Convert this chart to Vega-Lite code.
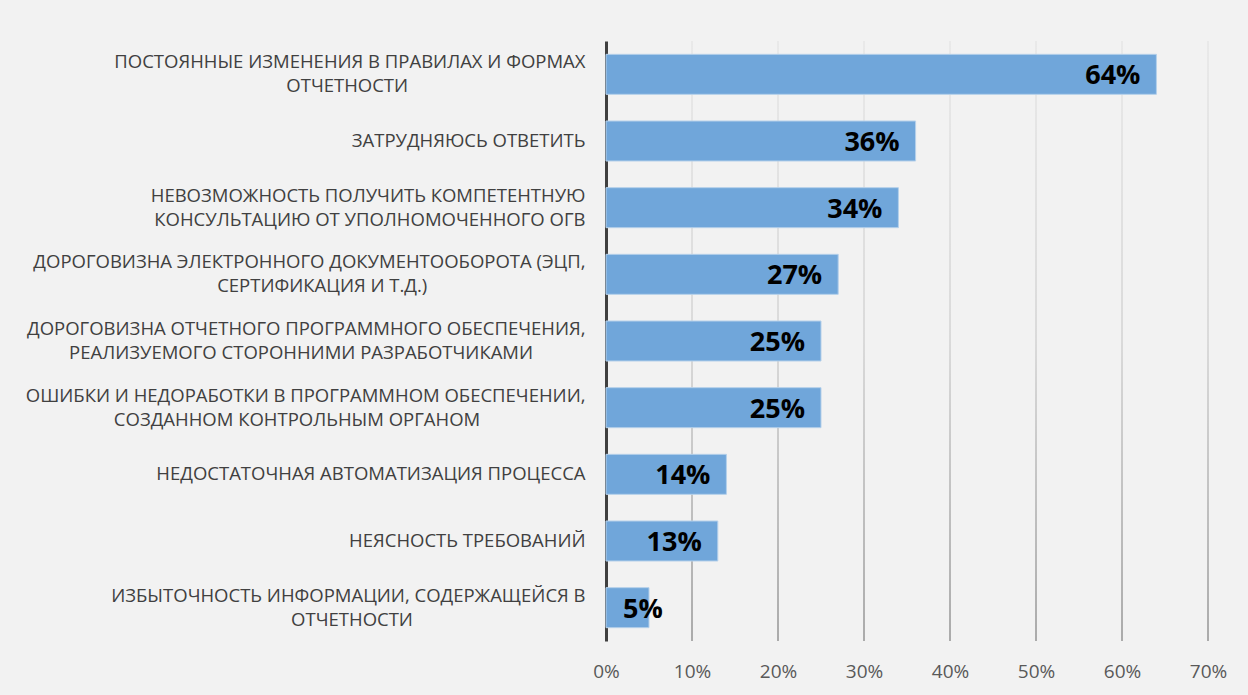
{
  "$schema": "https://vega.github.io/schema/vega-lite/v6.json",
  "autosize": "none",
  "padding": {"left": 606, "top": 41, "right": 40, "bottom": 54},
  "width": 602,
  "height": 600,
  "background": "#f2f2f2",
  "config": {"view": {"stroke": null}, "font": "Open Sans"},
  "datasets": {
    "bars": [
      {"cat": "ПОСТОЯННЫЕ ИЗМЕНЕНИЯ В ПРАВИЛАХ И ФОРМАХ|ОТЧЕТНОСТИ", "v": 0.64},
      {"cat": "ЗАТРУДНЯЮСЬ ОТВЕТИТЬ", "v": 0.36},
      {"cat": "НЕВОЗМОЖНОСТЬ ПОЛУЧИТЬ КОМПЕТЕНТНУЮ|КОНСУЛЬТАЦИЮ ОТ УПОЛНОМОЧЕННОГО ОГВ", "v": 0.34},
      {"cat": "ДОРОГОВИЗНА ЭЛЕКТРОННОГО ДОКУМЕНТООБОРОТА (ЭЦП,|СЕРТИФИКАЦИЯ И Т.Д.)", "v": 0.27},
      {"cat": "ДОРОГОВИЗНА ОТЧЕТНОГО ПРОГРАММНОГО ОБЕСПЕЧЕНИЯ,|РЕАЛИЗУЕМОГО СТОРОННИМИ РАЗРАБОТЧИКАМИ", "v": 0.25},
      {"cat": "ОШИБКИ И НЕДОРАБОТКИ В ПРОГРАММНОМ ОБЕСПЕЧЕНИИ,|СОЗДАННОМ КОНТРОЛЬНЫМ ОРГАНОМ", "v": 0.25},
      {"cat": "НЕДОСТАТОЧНАЯ АВТОМАТИЗАЦИЯ ПРОЦЕССА", "v": 0.14},
      {"cat": "НЕЯСНОСТЬ ТРЕБОВАНИЙ", "v": 0.13},
      {"cat": "ИЗБЫТОЧНОСТЬ ИНФОРМАЦИИ, СОДЕРЖАЩЕЙСЯ В|ОТЧЕТНОСТИ", "v": 0.05}
    ],
    "grid": [
      {"g": 0.1}, {"g": 0.2}, {"g": 0.3}, {"g": 0.4}, {"g": 0.5}, {"g": 0.6}, {"g": 0.7}
    ]
  },
  "layer": [
    {
      "data": {"name": "grid"},
      "mark": {"type": "bar", "orient": "vertical", "width": 1.5,
        "color": {"gradient": "linear", "x1": 0, "y1": 0, "x2": 0, "y2": 1,
          "stops": [{"offset": 0, "color": "#e6e6e6"}, {"offset": 0.5, "color": "#d2d2d2"}, {"offset": 1, "color": "#939393"}]}},
      "encoding": {
        "x": {"field": "g", "type": "quantitative", "scale": {"domain": [0, 0.7], "nice": false, "padding": 0},
          "axis": {
            "title": null, "format": "%", "values": [0, 0.1, 0.2, 0.3, 0.4, 0.5, 0.6, 0.7],
            "ticks": false, "domain": false, "labelFlush": false, "grid": false,
            "labelFontSize": 19, "labelColor": "#595959", "labelPadding": 21
          }}
      }
    },
    {
      "data": {"name": "bars"},
      "encoding": {
        "y": {
          "field": "cat", "type": "nominal", "sort": null,
          "scale": {"paddingInner": 0.4, "paddingOuter": 0.2},
          "axis": {
            "title": null, "ticks": false, "domain": true,
            "domainColor": "#404040", "domainWidth": 3,
            "labelFontSize": 18.5, "labelColor": "#404040",
            "labelPadding": 21, "labelLineHeight": 24, "labelLimit": 700,
            "labelOffset": {"condition": {"test": "indexof(datum.value,'|')>=0", "value": -12}, "value": 0},
            "labelExpr": "indexof(datum.value,'|')<0 ? datum.value : [ (length(split(datum.value,'|')[0])-length(split(datum.value,'|')[1]) < -2 ? split(datum.value,'|')[0] + pad('', round(((length(split(datum.value,'|')[1])-length(split(datum.value,'|')[0]))*5.9-13.9)/4.8), '\u00a0') + '\u2800' : split(datum.value,'|')[0]), (length(split(datum.value,'|')[0])-length(split(datum.value,'|')[1]) > 2 ? split(datum.value,'|')[1] + pad('', round(((length(split(datum.value,'|')[0])-length(split(datum.value,'|')[1]))*5.9-13.9)/4.8), '\u00a0') + '\u2800' : split(datum.value,'|')[1]) ]"
          }
        },
        "x": {
          "field": "v", "type": "quantitative",
          "scale": {"domain": [0, 0.7], "nice": false, "padding": 0},
          "axis": {
            "title": null, "format": "%", "values": [0, 0.1, 0.2, 0.3, 0.4, 0.5, 0.6, 0.7],
            "ticks": false, "domain": false, "labelFlush": false, "grid": false,
            "labelFontSize": 19, "labelColor": "#595959", "labelPadding": 21
          }
        }
      },
      "layer": [
        {"mark": {"type": "bar", "fill": "#70a6da", "stroke": "#b5d0ea", "strokeWidth": 1}},
        {
          "mark": {"type": "text", "baseline": "middle", "dy": 2, "fontSize": 27, "fontWeight": "bold", "color": "#000000",
            "align": {"expr": "datum.v < 0.08 ? 'left' : 'right'"},
            "dx": {"expr": "datum.v < 0.08 ? -26 : -16"}},
          "encoding": {"text": {"field": "v", "type": "quantitative", "format": ".0%"}}
        }
      ]
    }
  ]
}
